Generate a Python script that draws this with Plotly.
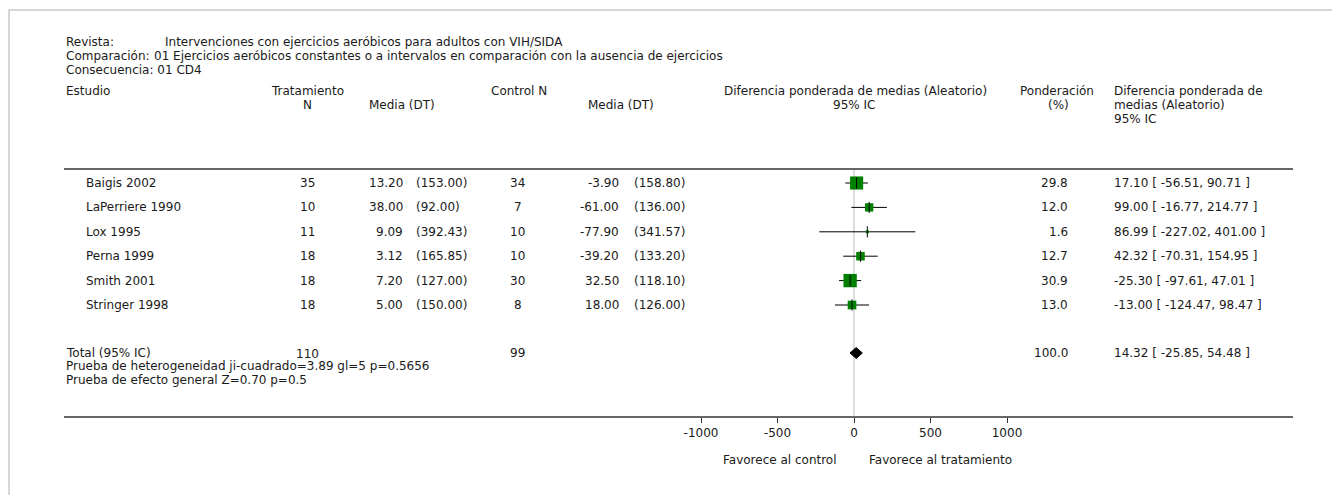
import plotly.graph_objects as go

# ---- data ----
studies = ["Baigis 2002", "LaPerriere 1990", "Lox 1995", "Perna 1999", "Smith 2001", "Stringer 1998"]
trt_n = [35, 10, 11, 18, 18, 18]
trt_mean = ["13.20", "38.00", "9.09", "3.12", "7.20", "5.00"]
trt_sd = ["(153.00)", "(92.00)", "(392.43)", "(165.85)", "(127.00)", "(150.00)"]
ctl_n = [34, 7, 10, 10, 30, 8]
ctl_mean = ["-3.90", "-61.00", "-77.90", "-39.20", "32.50", "18.00"]
ctl_sd = ["(158.80)", "(136.00)", "(341.57)", "(133.20)", "(118.10)", "(126.00)"]
weight = [29.8, 12.0, 1.6, 12.7, 30.9, 13.0]
md = [17.10, 99.00, 86.99, 42.32, -25.30, -13.00]
lo = [-56.51, -16.77, -227.02, -70.31, -97.61, -124.47]
hi = [90.71, 214.77, 401.00, 154.95, 47.01, 98.47]
total_trt_n = 110
total_ctl_n = 99
total_md = 14.32
total_lo = -25.85
total_hi = 54.48
total_weight = 100.0
tick_vals = [-1000, -500, 0, 500, 1000]

OFF = 8                      # browser body margin
W, H = 1340 - OFF, 495 - OFF
X0 = 854.0 - OFF             # pixel of zero
SCALE = 76.5 / 500           # px per unit
xr = [-X0 / SCALE, (W - X0) / SCALE]

def P(v):  # reference pixel -> figure pixel
    return v - OFF

row_y0 = 183.0
row_dy = 24.4
row_y = [P(row_y0 + i * row_dy) for i in range(len(studies))]
total_y = P(353.0)

FONT = "DejaVu Sans"
FS = 12
TC = "#1a1a1a"

fig = go.Figure()

for i in range(len(studies)):
    fig.add_trace(go.Scatter(x=[lo[i], hi[i]], y=[row_y[i], row_y[i]], mode="lines",
                             line=dict(color="black", width=1), hoverinfo="skip", showlegend=False))
fig.add_trace(go.Scatter(x=md, y=row_y, mode="markers",
                         marker=dict(symbol="square", color="#008000", opacity=1,
                                     size=[2.4 * (w ** 0.5) for w in weight], line=dict(width=0)),
                         showlegend=False, hoverinfo="skip"))
fig.add_trace(go.Scatter(x=md, y=row_y, mode="markers",
                         marker=dict(symbol="line-ns", size=8, opacity=1, line=dict(color="black", width=1)),
                         showlegend=False, hoverinfo="skip"))
dh = 5.5
fig.add_trace(go.Scatter(x=[total_lo, total_md, total_hi, total_md, total_lo],
                         y=[total_y, total_y - dh, total_y, total_y + dh, total_y],
                         mode="lines", fill="toself", fillcolor="black",
                         line=dict(color="black", width=1), showlegend=False, hoverinfo="skip"))

shapes = []
shapes.append(dict(type="line", xref="paper", yref="paper", x0=P(9) / W, x1=1, y0=1 - P(10) / H, y1=1 - P(10) / H,
                   line=dict(color="#c8c8c8", width=1.5)))
shapes.append(dict(type="line", xref="paper", yref="paper", x0=P(9) / W, x1=P(9) / W, y0=0, y1=1 - P(10) / H,
                   line=dict(color="#c8c8c8", width=1.5)))
for yy in (169, 417):
    shapes.append(dict(type="line", xref="paper", yref="y", x0=P(64) / W, x1=P(1293) / W, y0=P(yy), y1=P(yy),
                       line=dict(color="#333333", width=1.5)))
shapes.append(dict(type="line", xref="x", yref="y", x0=0, x1=0, y0=P(170), y1=P(416),
                   line=dict(color="#bbbbbb", width=1), layer="below"))

ann = []
def txt(s, px, py, anchor="left", family=FONT, size=FS):
    ann.append(dict(text=s, x=P(px) / W, y=P(py), xref="paper", yref="y", showarrow=False,
                    xanchor=anchor, yanchor="middle", font=dict(family=family, size=size, color=TC)))

txt("Revista:", 64, 42)
txt("Intervenciones con ejercicios aeróbicos para adultos con VIH/SIDA", 163, 42)
txt("Comparación:", 64, 56)
txt("01 Ejercicios aeróbicos constantes o a intervalos en comparación con la ausencia de ejercicios", 152, 56)
txt("Consecuencia: 01 CD4", 64, 70)

txt("Estudio", 64, 91)
txt("Tratamiento", 307, 91, "center")
txt("N", 307, 105, "center")
txt("Media (DT)", 402, 105, "center")
txt("Control N", 519, 91, "center")
txt("Media (DT)", 621, 105, "center")
txt("Diferencia ponderada de medias (Aleatorio)", 855, 91, "center")
txt("95% IC", 854, 105, "center")
txt("Ponderación", 1057, 91, "center")
txt("(%)", 1058, 105, "center")
txt("Diferencia ponderada de", 1112, 91)
txt("medias (Aleatorio)", 1112, 105)
txt("95% IC", 1112, 119)

for i, s in enumerate(studies):
    y = row_y[i] + OFF
    txt(s, 84, y)
    txt(str(trt_n[i]), 307, y, "center")
    txt(trt_mean[i], 405, y, "right")
    txt(trt_sd[i], 414, y)
    txt(str(ctl_n[i]), 518, y, "center")
    txt(ctl_mean[i], 621, y, "right")
    txt(ctl_sd[i], 632, y)
    txt(f"{weight[i]:.1f}", 1070, y, "right")
    txt(f"{md[i]:.2f} [ {lo[i]:.2f}, {hi[i]:.2f} ]", 1112, y)

ty = total_y + OFF
txt("Total (95% IC)", 64, ty)
txt(str(total_trt_n), 307, ty + 1, "center")
txt(str(total_ctl_n), 518, ty, "center")
txt(f"{total_weight:.1f}", 1070, ty, "right")
txt(f"{total_md:.2f} [ {total_lo:.2f}, {total_hi:.2f} ]", 1112, ty)
txt("Prueba de heterogeneidad ji-cuadrado=3.89 gl=5 p=0.5656", 64, 366)
txt("Prueba de efecto general Z=0.70 p=0.5", 64, 380)

txt("Favorece al control", 780, 460, "center")
txt("Favorece al tratamiento", 941, 460, "center")

fig.update_layout(
    width=W, height=H, margin=dict(l=0, r=0, t=0, b=0),
    paper_bgcolor="white", plot_bgcolor="white",
    shapes=shapes, annotations=ann,
    xaxis=dict(range=xr, domain=[0, 1], showgrid=False, zeroline=False, showline=False,
               tickmode="array", tickvals=tick_vals, ticktext=[str(v) for v in tick_vals],
               ticks="outside", ticklen=5, tickcolor="#333333", tickwidth=1,
               anchor="free", position=1 - P(417) / H,
               tickfont=dict(family=FONT, size=FS, color=TC)),
    yaxis=dict(range=[H, 0], domain=[0, 1], visible=False),
    showlegend=False,
)

fig.write_html("out.html")
